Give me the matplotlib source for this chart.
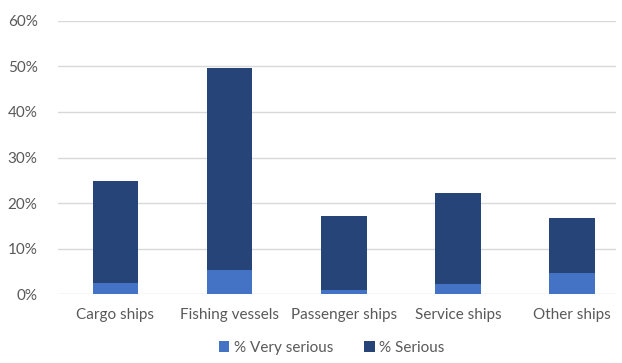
import matplotlib
matplotlib.use("Agg")
import matplotlib.pyplot as plt
from matplotlib.ticker import PercentFormatter

categories = ["Cargo ships", "Fishing vessels", "Passenger ships", "Service ships", "Other ships"]
very_serious = [2.5, 5.3, 0.9, 2.3, 4.7]
serious = [22.3, 44.3, 16.3, 19.9, 12.0]

plt.rcParams['font.family'] = ['Lato', 'DejaVu Sans']
txt = '#595959'

fig = plt.figure(figsize=(6.22, 3.63), dpi=100)
W, H = 622, 363
ax = fig.add_axes([58.4 / W, (H - 294.3) / H, (616 - 58.4) / W, (294.3 - 20.7) / H])

x = list(range(len(categories)))
ax.bar(x, very_serious, width=0.4, color='#4472C4', label='% Very serious', zorder=3)
ax.bar(x, serious, width=0.4, bottom=very_serious, color='#264478', label='% Serious', zorder=3)

ax.set_ylim(0, 60)
ax.set_xlim(-0.5, 4.386)
ax.set_yticks(range(0, 61, 10))
ax.yaxis.set_major_formatter(PercentFormatter(decimals=0))
ax.grid(axis='y', color='#D9D9D9', linewidth=1, zorder=0)
for s in ax.spines.values():
    s.set_visible(False)
ax.tick_params(length=0, labelsize=11, colors=txt)
ax.tick_params(axis='x', pad=10)
ax.tick_params(axis='y', pad=15)
ax.set_xticks(x)
ax.set_xticklabels(categories)

ax.legend(loc='lower center', bbox_to_anchor=(0.49, -0.255), ncol=2, frameon=False,
          fontsize=11, labelcolor=txt, handlelength=0.7, handleheight=0.7,
          handletextpad=0.3, columnspacing=2.0, borderpad=0.1)

fig.savefig("out.png", dpi=100)
